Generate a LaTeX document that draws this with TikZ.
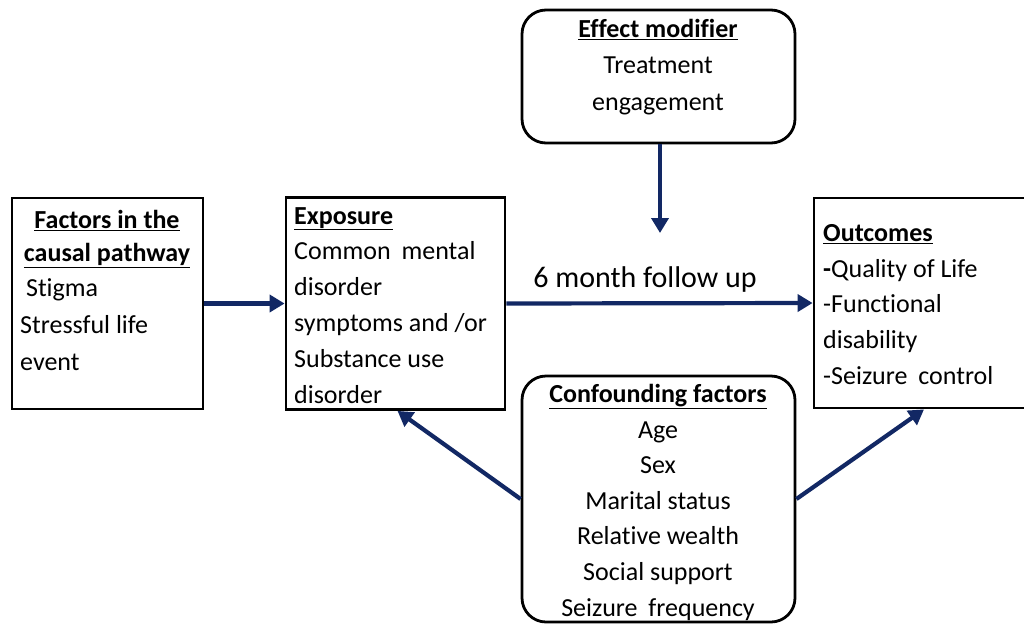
\documentclass[tikz,border=0pt]{standalone}
\usepackage{fontspec}
\setmainfont[Ligatures=NoCommon]{Carlito}
\usetikzlibrary{arrows.meta}
\definecolor{navy}{RGB}{18,40,100}
\tikzset{
  box/.style={draw=black, line width=2.8pt, inner sep=0pt},
  rbox/.style={box, rounded corners=24pt},
  txt/.style={inner sep=0pt, font=\fontsize{26}{36}\selectfont},
  arr/.style={draw=navy, line width=4.2pt, -{Triangle[length=15pt,width=17pt]}},
}
\newcommand{\hd}[1]{\textbf{\underline{#1}}}
\newcommand{\wsp}{\hspace{0.42em}}
\begin{document}
\begin{tikzpicture}[x=1pt,y=-1pt]
\useasboundingbox (0,0) rectangle (1024,624);
% boxes
\node[box, minimum width=191pt, minimum height=211pt] (fac) at (107.5,303.5) {};
\node[box, minimum width=219pt, minimum height=212pt] (expo) at (395.5,303.5) {};
\node[box, minimum width=220pt, minimum height=210pt] (out) at (924,303) {};
\node[rbox, minimum width=273pt, minimum height=133pt] (eff) at (658.5,76.5) {};
\node[rbox, minimum width=273pt, minimum height=246pt] (conf) at (658.5,499) {};
% texts
\node[txt, align=center, anchor=north, font=\fontsize{26}{33}\selectfont] (facH) at (107,210) {\hd{Factors in the}\\\hd{causal pathway}};
\node[txt, align=left, anchor=north west, font=\fontsize{26}{37}\selectfont] (facB) at (20,278) {\ Stigma\\Stressful life\\event};
\node[txt, align=left, anchor=north west, font=\fontsize{26}{35.8}\selectfont] (expoT) at (294,207) {\hd{Exposure}\\Common\wsp mental\\disorder\\symptoms and /or\\Substance use\\disorder};
\node[txt, align=left, anchor=north west, font=\fontsize{26}{35.8}\selectfont] (outT) at (823,224) {\hd{Outcomes}\\\textbf{-}Quality of Life\\-Functional\\disability\\-Seizure\wsp control};
\node[txt, align=center, anchor=north, font=\fontsize{26}{36.5}\selectfont] (effT) at (658,19) {\hd{Effect modifier}\\Treatment\\engagement};
\node[txt, align=center, anchor=north, font=\fontsize{26}{35.6}\selectfont] (confT) at (658,384) {\hd{Confounding factors}\\Age\\Sex\\Marital status\\Relative wealth\\Social support\\Seizure\wsp frequency};
\node[inner sep=0pt, anchor=base, font=\fontsize{30}{36}\selectfont] (fu) at (645,287) {6 month follow up};
% arrows
\coordinate (effend) at (660,233);
\draw[arr] (fac.east) -- (expo.west);
\draw[arr] (expo.east) -- (out.west);
\draw[arr] (eff.south -| effend) -- (effend);
\draw[arr] (conf.west) -- ([xshift=2pt]expo.south);
\draw[arr] (conf.east) -- (out.south);
\end{tikzpicture}
\end{document}
